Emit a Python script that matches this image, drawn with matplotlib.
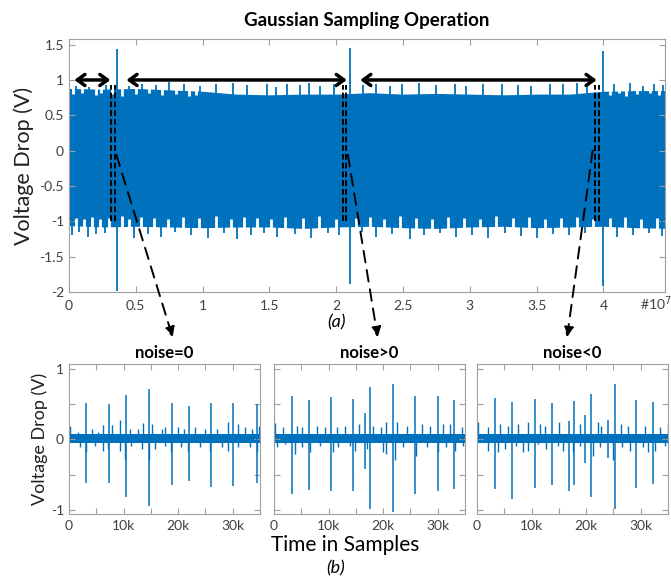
import numpy as np
import matplotlib.pyplot as plt
from matplotlib.patches import ConnectionPatch

plt.rcParams['font.family'] = ['Lato', 'DejaVu Sans']

BLEU = '#0072BD'
GRIS = '#404040'

# ---------- (a) signal complet (abscisse en unites de 1e7 echantillons)
env_x = [0, 0.25, 0.5, 0.75, 1.0, 1.25, 1.5, 1.75, 2.0, 2.25, 2.5, 2.75,
         3.0, 3.25, 3.5, 3.75, 4.0, 4.25, 4.5]
env_hi = [0.88, 0.87, 0.88, 0.86, 0.84, 0.80, 0.79, 0.80, 0.80, 0.82, 0.80, 0.81,
          0.80, 0.79, 0.80, 0.80, 0.84, 0.85, 0.85]
env_lo = [-1.06, -1.08, -1.07, -1.08, -1.09, -1.08, -1.08, -1.10, -1.08, -1.07,
          -1.09, -1.10, -1.08, -1.07, -1.09, -1.08, -1.07, -1.09, -1.10]

haut_x = [0.05, 0.15, 0.28, 0.45, 0.55, 0.65, 0.75, 0.86, 0.98, 1.10, 1.23, 1.33,
          1.48, 1.55, 1.63, 1.73, 1.80, 1.88, 1.98, 2.2, 2.3, 2.4, 2.49, 2.62,
          2.75, 2.89, 2.97, 3.1, 3.24, 3.36, 3.46, 3.6, 3.7, 3.8, 3.88, 4.08,
          4.2, 4.3, 4.38, 4.45]
haut_y = [0.92, 0.90, 0.93, 0.91, 0.95, 0.93, 0.97, 0.94, 0.92, 0.95, 0.96, 0.93,
          0.95, 0.90, 0.94, 0.93, 0.96, 0.92, 0.94, 0.93, 0.95, 0.92, 0.94, 0.96,
          0.93, 0.95, 0.92, 0.94, 0.95, 0.93, 0.92, 0.95, 0.94, 0.96, 0.91, 0.94,
          0.96, 0.92, 0.95, 0.93]
bas_x = [0.02, 0.075, 0.14, 0.20, 0.27, 0.49, 0.59, 0.69, 0.79, 0.91, 1.04, 1.16,
         1.26, 1.36, 1.46, 1.56, 1.69, 1.81, 1.94, 2.02, 2.19, 2.3, 2.42, 2.55,
         2.66, 2.78, 2.9, 3.02, 3.14, 3.26, 3.38, 3.5, 3.62, 3.74, 3.86, 4.1,
         4.22, 4.34, 4.44]
bas_y = [-1.20, -1.15, -1.22, -1.18, -1.16, -1.24, -1.18, -1.22, -1.15, -1.20, -1.23,
         -1.17, -1.25, -1.19, -1.16, -1.22, -1.18, -1.24, -1.17, -1.20, -1.15, -1.22,
         -1.18, -1.25, -1.20, -1.16, -1.22, -1.19, -1.24, -1.17, -1.21, -1.23, -1.18,
         -1.20, -1.16, -1.22, -1.19, -1.17, -1.21]
# creux blancs sur les bords de la bande
creux_haut_x = [0.03, 0.10, 0.20, 0.24, 0.32, 0.40, 0.50, 0.60, 0.70, 0.80, 0.90,
                0.95, 4.05, 4.12, 4.17, 4.25, 4.35, 4.42]
creux_haut_y = [0.80, 0.82, 0.79, 0.81, 0.80, 0.78, 0.80, 0.82, 0.79, 0.80, 0.78,
                0.79, 0.79, 0.81, 0.78, 0.80, 0.82, 0.79]
creux_bas_x = [0.05, 0.11, 0.17, 0.23, 0.30, 0.40, 0.45, 0.54, 0.64, 0.74, 0.85,
               0.97, 1.10, 1.21, 1.31, 1.41, 1.51, 1.62, 1.75, 1.87, 2.00, 2.15,
               2.25, 2.36, 2.48, 2.60, 2.72, 2.84, 2.96, 3.08, 3.20, 3.32, 3.44,
               3.56, 3.68, 3.80, 3.92, 4.05, 4.16, 4.28, 4.40]
creux_bas_y = [-0.95, -0.97, -0.94, -0.96, -0.95, -0.93, -0.96, -0.94, -0.95, -0.97,
               -0.94, -0.95, -0.93, -0.96, -0.94, -0.95, -0.97, -0.94, -0.95, -0.93,
               -0.96, -0.95, -0.94, -0.96, -0.93, -0.95, -0.97, -0.94, -0.95, -0.96,
               -0.93, -0.95, -0.94, -0.96, -0.95, -0.94, -0.97, -0.95, -0.94, -0.96,
               -0.95]

pic_x = [0.0, 0.362, 2.105, 4.0]
pic_haut = [1.43, 1.44, 1.45, 1.41]
pic_bas = [-1.87, -1.99, -1.89, -1.92]

fenetres = [(0.317, 0.345), (2.05, 2.077), (3.94, 3.966)]
fleches = [(0.04, 0.31), (0.43, 2.08), (2.18, 3.95)]

# ---------- (b) zooms (abscisse en milliers d'echantillons)
titres = ['noise=0', 'noise>0', 'noise<0']
pics_x = [
    [3.2, 7.3, 10.4, 14.6, 18.8, 22.0, 26.0, 30.1, 34.4],
    [3.24, 6.41, 10.44, 14.47, 16.67, 17.59, 21.86, 25.83, 29.98, 33.04],
    [3.24, 6.41, 10.56, 13.74, 16.79, 17.71, 19.85, 20.95, 24.0, 25.22, 29.19, 32.24],
]
pics_haut = [
    [0.52, 0.50, 0.63, 0.72, 0.51, 0.48, 0.52, 0.52, 0.50],
    [0.62, 0.56, 0.60, 0.57, 0.37, 0.75, 0.78, 0.61, 0.61, 0.56],
    [0.59, 0.53, 0.58, 0.52, 0.26, 0.55, 0.35, 0.64, 0.28, 0.78, 0.56, 0.53],
]
pics_bas = [
    [-0.62, -0.62, -0.82, -0.95, -0.65, -0.59, -0.67, -0.66, -0.62],
    [-0.78, -0.72, -0.73, -0.73, -0.42, -0.99, -1.03, -0.78, -0.73, -0.70],
    [-0.71, -0.85, -0.69, -0.65, -0.73, -0.65, -0.34, -0.82, -0.26, -0.99, -0.69, -0.63],
]
petits_haut_x = [
    [0.2, 1.7, 4.2, 5.4, 6.3, 7.8, 9.3, 11.2, 12.6, 13.6, 15.3, 17.0, 17.6, 20.0,
     21.0, 23.1, 24.9, 27.1, 29.2, 31.0, 32.2, 33.5, 34.9],
    [0.1, 1.7, 4.2, 5.1, 7.8, 9.3, 11.5, 13.0, 15.5, 18.2, 19.7, 20.6, 22.5, 24.3,
     27.1, 28.6, 31.0, 32.2, 34.4],
    [0.2, 2.0, 4.2, 5.7, 7.5, 9.3, 11.5, 12.4, 15.1, 18.8, 22.2, 22.8, 26.4, 27.7,
     30.7, 33.5, 35.0],
]
petits_haut_y = [
    [0.19, 0.10, 0.14, 0.10, 0.20, 0.21, 0.27, 0.15, 0.15, 0.23, 0.22, 0.15, 0.17,
     0.17, 0.15, 0.17, 0.15, 0.15, 0.24, 0.22, 0.17, 0.15, 0.19],
    [0.23, 0.17, 0.19, 0.17, 0.19, 0.17, 0.17, 0.19, 0.22, 0.19, 0.17, 0.24, 0.24,
     0.19, 0.22, 0.19, 0.22, 0.22, 0.17],
    [0.24, 0.17, 0.22, 0.19, 0.22, 0.24, 0.22, 0.19, 0.24, 0.22, 0.24, 0.19, 0.22,
     0.19, 0.19, 0.17, 0.22],
]
petits_bas_x = [
    [2.0, 3.1, 4.8, 6.2, 7.2, 9.3, 10.3, 11.4, 13.3, 14.7, 15.8, 17.6, 18.7, 20.6,
     21.9, 24.0, 25.8, 28.0, 29.2, 31.0, 33.2, 34.4],
    [0.5, 2.0, 3.8, 5.1, 6.6, 8.4, 10.9, 11.8, 13.9, 14.8, 17.0, 18.5, 20.0, 20.6,
     22.2, 23.7, 26.1, 28.0, 30.1, 31.6, 33.2, 34.7],
    [0.5, 2.0, 3.8, 5.1, 7.2, 8.4, 9.3, 11.2, 12.7, 14.8, 15.8, 17.6, 18.8, 21.3,
     22.5, 25.0, 26.5, 28.0, 30.4, 31.4, 32.6, 34.4],
]
petits_bas_y = [
    [-0.11, -0.18, -0.09, -0.16, -0.14, -0.16, -0.28, -0.09, -0.14, -0.30, -0.14,
     -0.09, -0.18, -0.11, -0.16, -0.11, -0.16, -0.11, -0.16, -0.11, -0.11, -0.18],
    [-0.11, -0.07, -0.21, -0.11, -0.18, -0.09, -0.18, -0.11, -0.09, -0.16, -0.14,
     -0.04, -0.18, -0.21, -0.30, -0.11, -0.23, -0.11, -0.18, -0.11, -0.16, -0.09],
    [-0.04, -0.16, -0.18, -0.14, -0.09, -0.18, -0.16, -0.07, -0.14, -0.09, -0.16,
     -0.18, -0.09, -0.23, -0.11, -0.30, -0.11, -0.16, -0.11, -0.18, -0.16, -0.09],
]
fleche_bout = [19.0, 19.0, 16.5]


def style_axe(ax):
    for s in ax.spines.values():
        s.set_color('#a0a0a0')
        s.set_linewidth(0.8)
    ax.tick_params(direction='in', top=True, right=True, length=4,
                   color='#a0a0a0', labelcolor=GRIS, labelsize=10)
    ax.tick_params(axis='x', pad=6)


fig = plt.figure(figsize=(6.71, 5.81), dpi=100)

# ---- panneau (a)
ax = fig.add_axes([0.1028, 0.4974, 0.888, 0.4355])
ax.fill_between(env_x, env_lo, env_hi, color=BLEU, lw=0)
ax.vlines(creux_haut_x, creux_haut_y, 0.9, color='white', lw=2.0)
ax.vlines(creux_bas_x, -1.12, creux_bas_y, color='white', lw=2.0)
ax.vlines(haut_x, 0.7, haut_y, color=BLEU, lw=1.3)
ax.vlines(bas_x, -0.9, bas_y, color=BLEU, lw=1.3)
ax.vlines(pic_x, pic_bas, pic_haut, color=BLEU, lw=1.3)
for x0, x1 in fenetres:
    ax.vlines([x0, x1], -1.0, 0.93, color='black', lw=1.4, linestyles=(0, (3, 1.5)))
for x0, x1 in fleches:
    ax.annotate('', xy=(x1, 1.0), xytext=(x0, 1.0),
                arrowprops=dict(arrowstyle='<->,head_length=0.55,head_width=0.4',
                                color='black', lw=2.5, shrinkA=0, shrinkB=0))
ax.set_xlim(0, 4.46)
ax.set_ylim(-2, 1.58)
ax.set_xticks(np.arange(0, 4.01, 0.5))
ax.set_xticklabels(['0', '0.5', '1', '1.5', '2', '2.5', '3', '3.5', '4'])
ax.set_yticks(np.arange(-2, 1.51, 0.5))
ax.set_yticklabels(['-2', '-1.5', '-1', '-0.5', '0', '0.5', '1', '1.5'])
style_axe(ax)
ax.set_ylabel('Voltage Drop (V)', fontsize=15.5, color='#202020', labelpad=4)
ax.set_title('Gaussian Sampling Operation', fontsize=13.5, fontweight='bold', pad=9)
fig.text(656 / 671, 1 - 304 / 581, '#10$^7$', fontsize=10, color=GRIS,
         ha='center', va='center')
fig.text(336 / 671, 1 - 322 / 581, '(a)', fontsize=13, style='italic',
         ha='center', va='center')

# ---- panneaux (b)
gauches = [0.1028, 0.4083, 0.7109]
debuts = [(0.355, -0.06), (2.088, -0.06), (3.92, 0.0)]
for i in range(3):
    axb = fig.add_axes([gauches[i], 0.1153, 0.2846, 0.2582])
    axb.fill_between([0, 35000], -0.045, 0.075, color=BLEU, lw=0)
    axb.vlines(np.array(petits_haut_x[i]) * 1000, 0, petits_haut_y[i], color=BLEU, lw=1.0)
    axb.vlines(np.array(petits_bas_x[i]) * 1000, 0, petits_bas_y[i], color=BLEU, lw=1.0)
    axb.vlines(np.array(pics_x[i]) * 1000, pics_bas[i], pics_haut[i], color=BLEU, lw=1.1)
    axb.set_xlim(0, 35000)
    axb.set_ylim(-1.06, 1.07)
    axb.set_xticks(np.arange(0, 35001, 5000))
    axb.set_xticklabels(['0', '', '10k', '', '20k', '', '30k', ''])
    axb.set_yticks([-1, -0.5, 0, 0.5, 1])
    if i == 0:
        axb.set_yticklabels(['-1', '', '0', '', '1'])
        axb.set_ylabel('Voltage Drop (V)', fontsize=13, color='#202020', labelpad=2)
    else:
        axb.set_yticklabels([])
    style_axe(axb)
    axb.tick_params(axis='x', pad=4)
    axb.set_title(titres[i], fontsize=12, fontweight='bold', pad=4)
    con = ConnectionPatch(xyA=debuts[i], coordsA=ax.transData,
                          xyB=(fleche_bout[i] * 1000, 1.45), coordsB=axb.transData,
                          arrowstyle='-|>,head_length=0.5,head_width=0.25',
                          color='black', lw=1.4, linestyle=(0, (6, 4)),
                          shrinkA=0, shrinkB=0, mutation_scale=12)
    fig.add_artist(con)

fig.text(345 / 671, 1 - 545 / 581, 'Time in Samples', fontsize=15,
         ha='center', va='center')
fig.text(336 / 671, 1 - 568 / 581, '(b)', fontsize=13, style='italic',
         ha='center', va='center')

fig.savefig('out.png', dpi=100)
